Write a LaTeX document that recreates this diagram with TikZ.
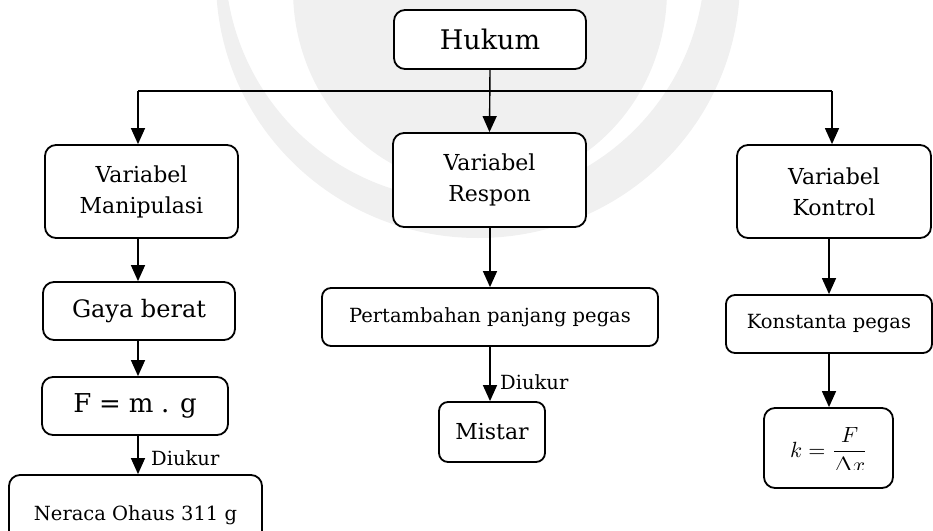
\documentclass[tikz,border=0pt]{standalone}
\usepackage{fontspec}
\setmainfont{DejaVu Serif}
\usepackage{amsmath}
\usetikzlibrary{arrows.meta}
\newcommand{\tightwords}{\spaceskip=0.3em plus 0.05em\relax}

\begin{document}
\begin{tikzpicture}[x=1pt,y=-1pt,
  flowbox/.style={draw=black, fill=white, line width=1.8pt, rounded corners=11pt,
                  inner sep=0pt, align=center},
  link/.style={line width=1.4pt, -{Triangle[length=16pt,width=14pt]}},
  plainline/.style={line width=1.4pt},
  bigtxt/.style={font=\fontsize{27}{32}\selectfont},
  eqtxt/.style={font=\fontsize{26}{30}\selectfont},
  gayatxt/.style={font=\fontsize{24}{29}\selectfont},
  midtxt/.style={font=\fontsize{22}{31}\selectfont},
  smalltxt/.style={font=\fontsize{19.5}{24}\selectfont},
  labeltxt/.style={font=\fontsize{19.5}{24}\selectfont, inner sep=0pt, anchor=west},
  watermark/.style={fill=gray!12}
]
\useasboundingbox (0,0) rectangle (933,530);
\clip (0,0) rectangle (933,530);

% faint logo in the background
\fill[watermark, even odd rule]
  (478,-20) ellipse [x radius=262pt, y radius=258pt]
  (465,-40) ellipse [x radius=240pt, y radius=240pt];
\fill[watermark] (480,-10) ellipse [x radius=187pt, y radius=197pt];

% column guides for the connectors
\coordinate (colL)  at (138,91);
\coordinate (colM)  at (490,91);
\coordinate (colR)  at (832,91);
\coordinate (colRl) at (829,91);

% top
\node[flowbox, bigtxt, minimum width=192pt, minimum height=59pt] (hukum) at (490,39.5) {Hukum};

% second row
\node[flowbox, midtxt, minimum width=193pt, minimum height=93pt] (manip) at (141.5,191.5) {Variabel\\Manipulasi};
\node[flowbox, midtxt, minimum width=193pt, minimum height=94pt] (respon) at (489.5,180) {Variabel\\Respon};
\node[flowbox, midtxt, minimum width=194pt, minimum height=93pt] (kontrol) at (834,191.5) {Variabel\\Kontrol};

% left column
\node[flowbox, gayatxt, minimum width=192pt, minimum height=58pt] (gaya) at (139,311) {Gaya berat};
\node[flowbox, eqtxt, minimum width=186pt, minimum height=58pt] (fmg) at (135,406) {\tightwords F = m . g};
\node[flowbox, smalltxt, minimum width=253pt, minimum height=80pt] (neraca) at (135.5,515) {Neraca Ohaus 311 g};

% middle column
\node[flowbox, smalltxt, minimum width=336pt, minimum height=58pt, rounded corners=9pt] (tambah) at (490,317) {Pertambahan panjang pegas};
\node[flowbox, midtxt, minimum width=106pt, minimum height=60pt, rounded corners=9pt] (mistar) at (492,432) {Mistar};

% right column
\node[flowbox, smalltxt, minimum width=206pt, minimum height=58pt, rounded corners=9pt] (konst) at (829,324) {Konstanta pegas};
\node[flowbox, minimum width=129pt, minimum height=80pt] (kbox) at (828.5,448) {};
\begin{scope}
  % the formula runs past the lower edge of its frame
  \clip (760,400) rectangle (897,469);
  \node[inner sep=0pt, anchor=base] (kform) at (829,457)
    {\scalebox{2.2}{$\displaystyle k=\frac{F}{\Delta x}$}};
\end{scope}

% connectors
\draw[link] (hukum.south) -- (respon.north);
\draw[plainline] (colL) -- (colR);
\draw[link] (colL) -- (colL |- manip.north);
\draw[link] (colR) -- (colR |- kontrol.north);

\draw[link] (colL |- manip.south) -- (colL |- gaya.north);
\draw[link] (colL |- gaya.south) -- (colL |- fmg.north);
\draw[link] (colL |- fmg.south) -- (colL |- neraca.north);
\node[labeltxt] (diukurL) at (151,458) {Diukur};

\draw[link] (colM |- respon.south) -- (colM |- tambah.north);
\draw[link] (colM |- tambah.south) -- (colM |- mistar.north);
\node[labeltxt] (diukurM) at (500,382) {Diukur};

\draw[link] (colRl |- kontrol.south) -- (colRl |- konst.north);
\draw[link] (colRl |- konst.south) -- (colRl |- kbox.north);
\end{tikzpicture}
\end{document}
